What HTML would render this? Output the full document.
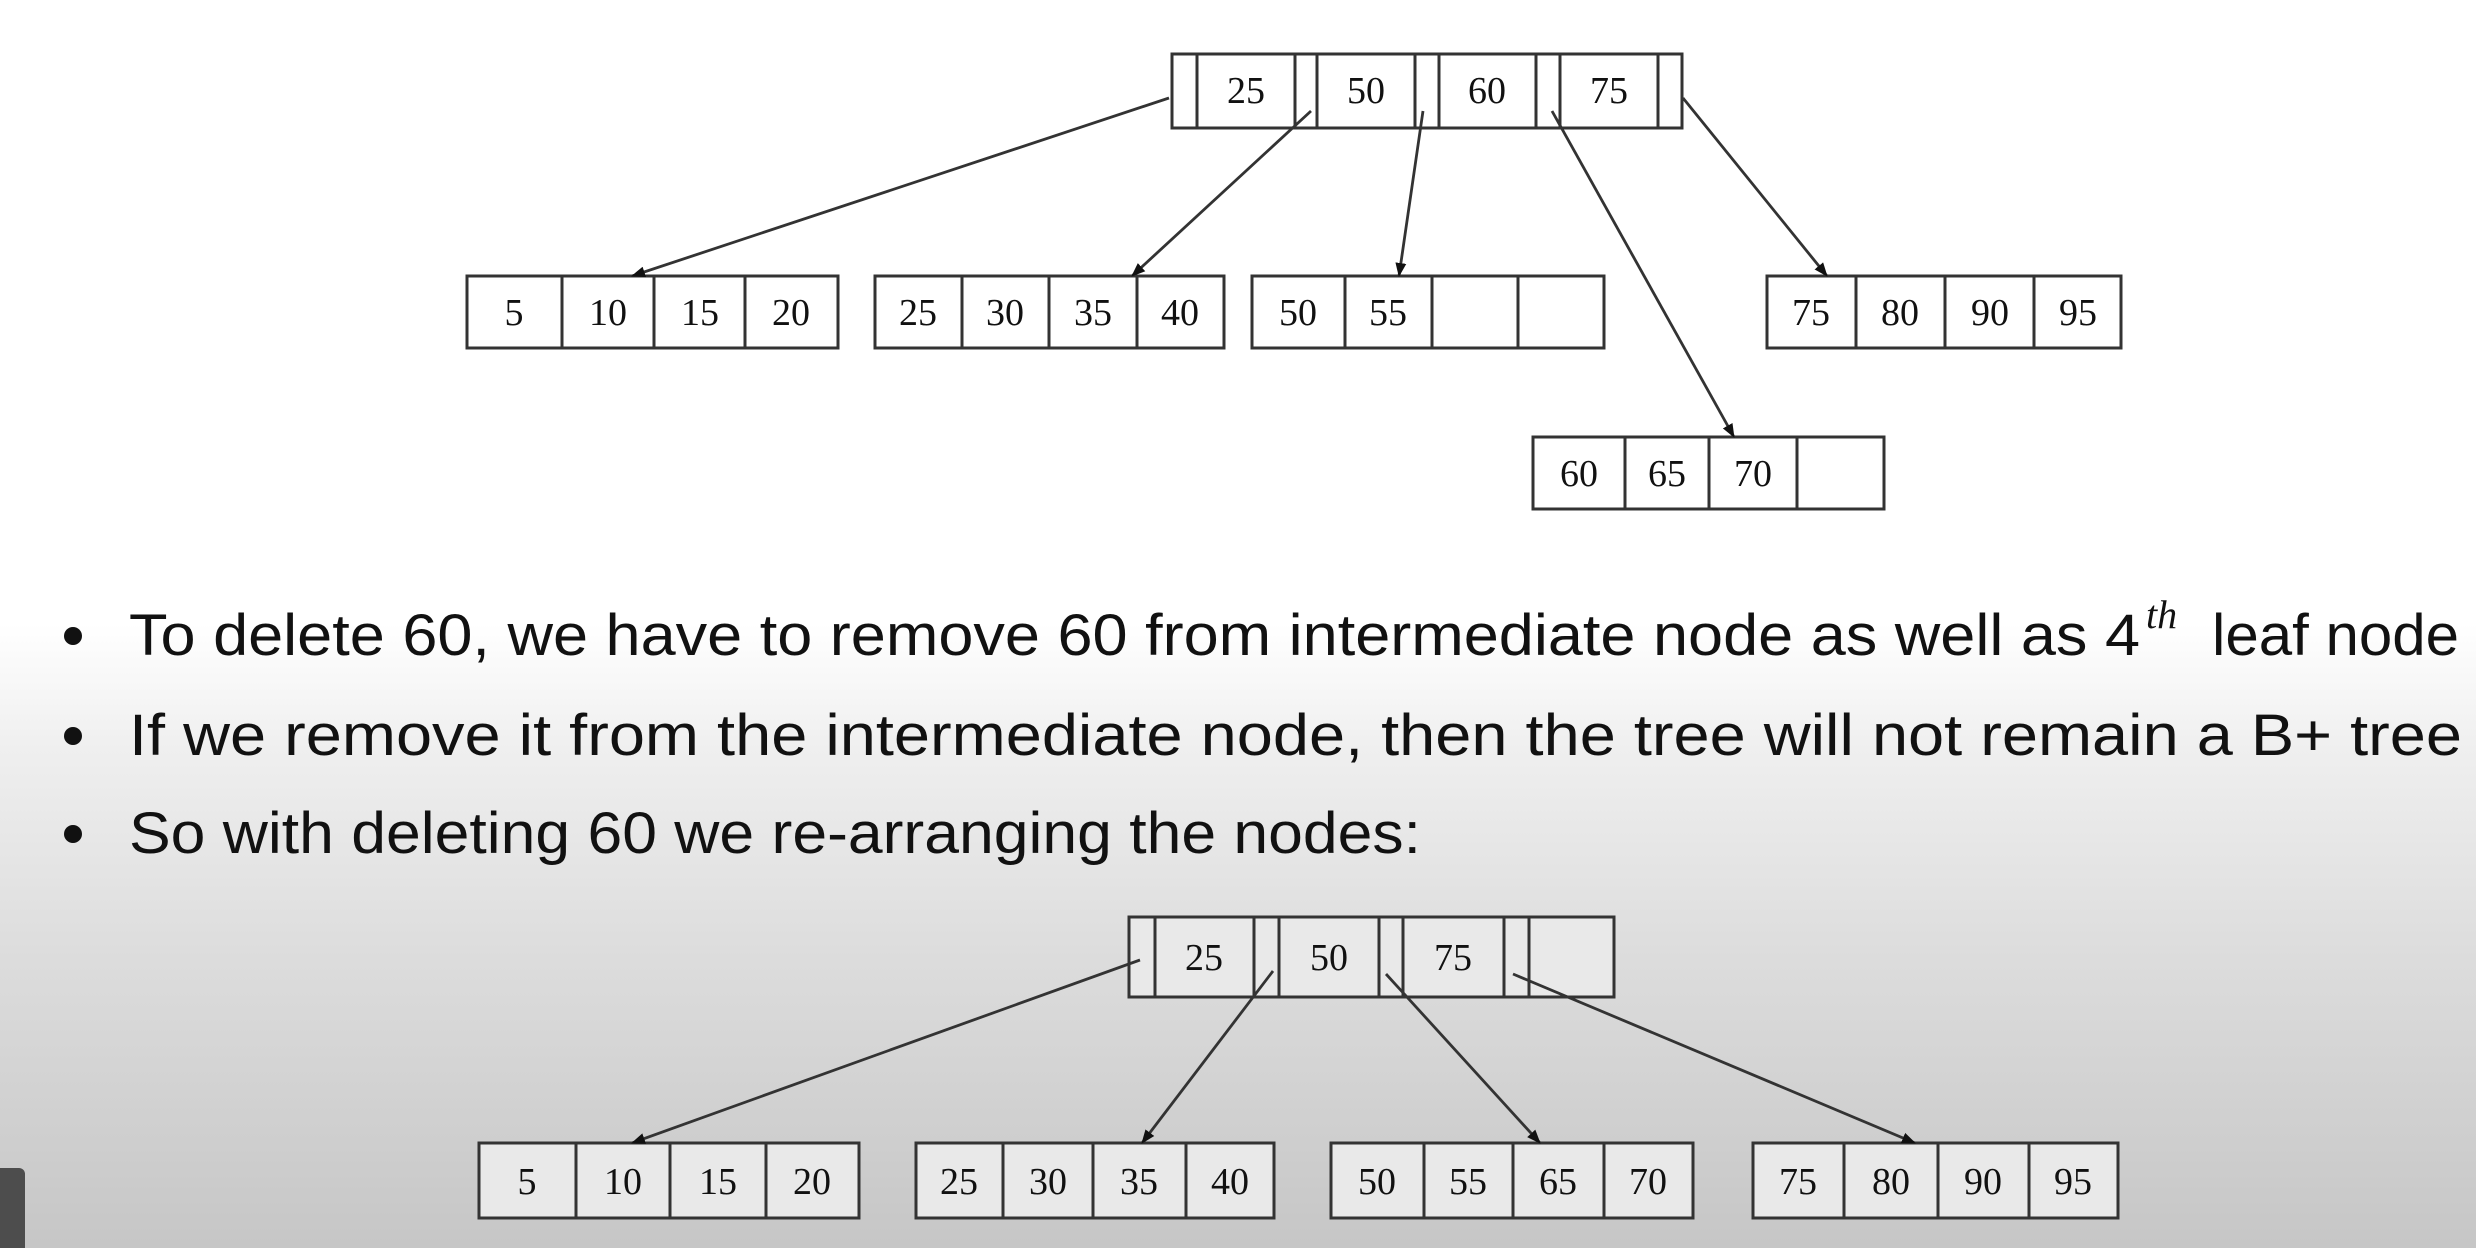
<!DOCTYPE html>
<html><head><meta charset="utf-8"><style>
html,body{margin:0;padding:0;}
body{width:2476px;height:1248px;overflow:hidden;background:linear-gradient(to bottom,#ffffff 0%,#ffffff 50%,#efefef 60%,#dcdcdc 77%,#c6c6c6 100%);position:relative;}
svg{position:absolute;left:0;top:0;}
</style></head><body>
<svg width="2476" height="1248" viewBox="0 0 2476 1248" xmlns="http://www.w3.org/2000/svg">
<defs>
<marker id="ah" markerWidth="14" markerHeight="14" refX="13" refY="7" orient="auto" markerUnits="userSpaceOnUse" viewBox="0 0 14 14">
<path d="M0,1.5 L14,7 L0,12.5 z" fill="#111"/>
</marker>
</defs>
<g stroke="#333" stroke-width="3" fill="#fff">
<rect x="1172" y="54" width="510" height="74"/>
<line x1="1197" y1="54" x2="1197" y2="128"/><line x1="1295" y1="54" x2="1295" y2="128"/>
<line x1="1317" y1="54" x2="1317" y2="128"/><line x1="1415" y1="54" x2="1415" y2="128"/>
<line x1="1439" y1="54" x2="1439" y2="128"/><line x1="1536" y1="54" x2="1536" y2="128"/>
<line x1="1560" y1="54" x2="1560" y2="128"/><line x1="1658" y1="54" x2="1658" y2="128"/>
<rect x="467" y="276" width="371" height="72"/>
<line x1="562" y1="276" x2="562" y2="348"/><line x1="654" y1="276" x2="654" y2="348"/><line x1="745" y1="276" x2="745" y2="348"/>
<rect x="875" y="276" width="349" height="72"/>
<line x1="962" y1="276" x2="962" y2="348"/><line x1="1049" y1="276" x2="1049" y2="348"/><line x1="1137" y1="276" x2="1137" y2="348"/>
<rect x="1252" y="276" width="352" height="72"/>
<line x1="1345" y1="276" x2="1345" y2="348"/><line x1="1432" y1="276" x2="1432" y2="348"/><line x1="1518" y1="276" x2="1518" y2="348"/>
<rect x="1767" y="276" width="354" height="72"/>
<line x1="1856" y1="276" x2="1856" y2="348"/><line x1="1945" y1="276" x2="1945" y2="348"/><line x1="2034" y1="276" x2="2034" y2="348"/>
<rect x="1533" y="437" width="351" height="72"/>
<line x1="1625" y1="437" x2="1625" y2="509"/><line x1="1709" y1="437" x2="1709" y2="509"/><line x1="1797" y1="437" x2="1797" y2="509"/>
</g>
<g stroke="#333" stroke-width="3" fill="#e9e9e9">
<rect x="1129" y="917" width="485" height="80"/>
<line x1="1155" y1="917" x2="1155" y2="997"/><line x1="1254" y1="917" x2="1254" y2="997"/>
<line x1="1279" y1="917" x2="1279" y2="997"/><line x1="1379" y1="917" x2="1379" y2="997"/>
<line x1="1403" y1="917" x2="1403" y2="997"/><line x1="1504" y1="917" x2="1504" y2="997"/>
<line x1="1529" y1="917" x2="1529" y2="997"/>
<rect x="479" y="1143" width="380" height="75"/>
<line x1="576" y1="1143" x2="576" y2="1218"/><line x1="670" y1="1143" x2="670" y2="1218"/><line x1="766" y1="1143" x2="766" y2="1218"/>
<rect x="916" y="1143" width="358" height="75"/>
<line x1="1003" y1="1143" x2="1003" y2="1218"/><line x1="1093" y1="1143" x2="1093" y2="1218"/><line x1="1186" y1="1143" x2="1186" y2="1218"/>
<rect x="1331" y="1143" width="362" height="75"/>
<line x1="1424" y1="1143" x2="1424" y2="1218"/><line x1="1513" y1="1143" x2="1513" y2="1218"/><line x1="1604" y1="1143" x2="1604" y2="1218"/>
<rect x="1753" y="1143" width="365" height="75"/>
<line x1="1844" y1="1143" x2="1844" y2="1218"/><line x1="1938" y1="1143" x2="1938" y2="1218"/><line x1="2029" y1="1143" x2="2029" y2="1218"/>
</g>
<g stroke="#333" stroke-width="2.8" fill="none" marker-end="url(#ah)">
<line x1="1169" y1="98" x2="632" y2="276"/>
<line x1="1311" y1="111" x2="1132" y2="276"/>
<line x1="1423" y1="111" x2="1399" y2="276"/>
<line x1="1552" y1="111" x2="1734" y2="437"/>
<line x1="1683" y1="98" x2="1827" y2="276"/>
<line x1="1140" y1="960" x2="632" y2="1143"/>
<line x1="1273" y1="971" x2="1142" y2="1143"/>
<line x1="1386" y1="974" x2="1540" y2="1143"/>
<line x1="1513" y1="974" x2="1915" y2="1143"/>
</g>
<g font-family="'Liberation Serif',serif" font-size="38" fill="#111" text-anchor="middle">
<text x="1246" y="103">25</text><text x="1366" y="103">50</text><text x="1487" y="103">60</text><text x="1609" y="103">75</text>
<text x="514" y="325">5</text><text x="608" y="325">10</text><text x="700" y="325">15</text><text x="791" y="325">20</text>
<text x="918" y="325">25</text><text x="1005" y="325">30</text><text x="1093" y="325">35</text><text x="1180" y="325">40</text>
<text x="1298" y="325">50</text><text x="1388" y="325">55</text>
<text x="1811" y="325">75</text><text x="1900" y="325">80</text><text x="1990" y="325">90</text><text x="2078" y="325">95</text>
<text x="1579" y="486">60</text><text x="1667" y="486">65</text><text x="1753" y="486">70</text>
<text x="1204" y="970">25</text><text x="1329" y="970">50</text><text x="1453" y="970">75</text>
<text x="527" y="1194">5</text><text x="623" y="1194">10</text><text x="718" y="1194">15</text><text x="812" y="1194">20</text>
<text x="959" y="1194">25</text><text x="1048" y="1194">30</text><text x="1139" y="1194">35</text><text x="1230" y="1194">40</text>
<text x="1377" y="1194">50</text><text x="1468" y="1194">55</text><text x="1558" y="1194">65</text><text x="1648" y="1194">70</text>
<text x="1798" y="1194">75</text><text x="1891" y="1194">80</text><text x="1983" y="1194">90</text><text x="2073" y="1194">95</text>
</g>
<g fill="#111">
<circle cx="73" cy="636" r="9"/><circle cx="73" cy="736" r="9"/><circle cx="73" cy="834" r="9"/>
</g>
<g font-family="'Liberation Sans',sans-serif" font-size="58" fill="#111">
<text x="129" y="655" textLength="2011" lengthAdjust="spacingAndGlyphs">To delete 60, we have to remove 60 from intermediate node as well as 4</text>
<text x="2146" y="628" font-size="40" font-style="italic" font-family="'Liberation Serif',serif">th</text>
<text x="2212" y="655" textLength="247" lengthAdjust="spacingAndGlyphs">leaf node</text>
<text x="129" y="755" textLength="2333" lengthAdjust="spacingAndGlyphs">If we remove it from the intermediate node, then the tree will not remain a B+ tree</text>
<text x="129" y="853" textLength="1292" lengthAdjust="spacingAndGlyphs">So with deleting 60 we re-arranging the nodes:</text>
</g>
<rect x="-10" y="1168" width="35" height="90" rx="6" fill="#4d4d4d"/>
</svg>
</body></html>
